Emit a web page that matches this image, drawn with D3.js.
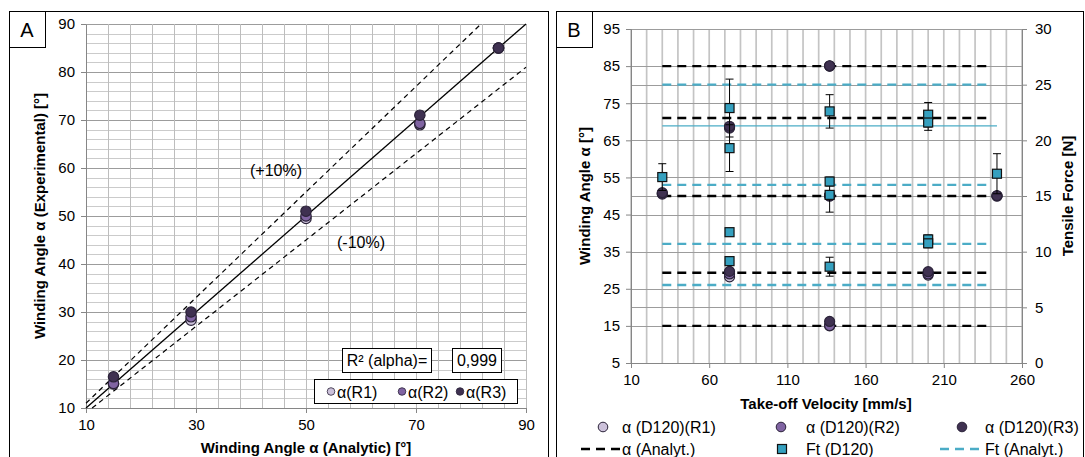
<!DOCTYPE html>
<html>
<head>
<meta charset="utf-8">
<script src="https://cdn.jsdelivr.net/npm/d3@7"></script>
<style>
  body { margin: 0; background: #fff; }
  text { font-family: "Liberation Sans", Arial, sans-serif; fill: #000; }
</style>
</head>
<body>
<div id="chart"></div>
<script>
// ---- panel A data ----
const aAnalytic = [15, 29.1, 50, 70.7, 85]
const aR1 = [15, 28.3, 49.5, 69, 85]
const aR2 = [15.1, 29, 50, 69.3, 85]
const aR3 = [16.5, 30, 51, 71, 85]
const aTicksX = [10, 30, 50, 70, 90]
const aTicksY = [10, 20, 30, 40, 50, 60, 70, 80, 90]
const aRsq = "0,999"

// ---- panel B data ----
const bR1 = [[30, 50.5], [73, 68.3], [73, 28.2], [137, 85], [137, 15], [137, 50], [200, 28.7], [244, 50]]
const bR2 = [[30, 50.7], [73, 68.5], [73, 29], [137, 85], [137, 15.1], [137, 50], [200, 29], [244, 50]]
const bR3 = [[30, 50.9], [73, 68.8], [73, 29.7], [137, 85.1], [137, 16.2], [137, 50.2], [200, 29.6], [244, 50.1]]
const ftVelocity = [30, 73, 73, 73, 73, 137, 137, 137, 137, 200, 200, 200, 200, 244]
const ftMean = [16.7, 22.9, 19.3, 11.75, 9.15, 22.6, 16.3, 15.1, 8.65, 22.3, 21.6, 11.1, 10.75, 17]
const ftError = [1.2, 2.6, 2.1, 0, 0, 1.5, 0.4, 1.55, 0.85, 1.1, 0.7, 0.4, 0.4, 1.8]
const alphaAnalyt = [85, 71, 50, 29.3, 15]
const ftAnalyt = [25, 16, 10.7, 7]
const ftAnalytSolid = [21.3]
const analytRange = [30, 240]
const solidRange = [30, 244]
const bTicksX = [10, 60, 110, 160, 210, 260]
const bTicksL = [5, 15, 25, 35, 45, 55, 65, 75, 85, 95]
const bTicksR = [0, 5, 10, 15, 20, 25, 30]

const colR1 = "#ccc1da", colR2 = "#8064a2", colR3 = "#3f3151"
const colFt = "#35a0bf", colFtLine = "#4bacc6"

const svg = d3.select("#chart").append("svg")
  .attr("width", 1085).attr("height", 457)

// panel frames
svg.append("rect").attr("x", 9.5).attr("y", 11.5).attr("width", 539).attr("height", 460)
  .attr("fill", "none").attr("stroke", "#000").attr("stroke-width", 1)
svg.append("rect").attr("x", 556.5).attr("y", 11.5).attr("width", 527).attr("height", 460)
  .attr("fill", "none").attr("stroke", "#000").attr("stroke-width", 1)

function labelBox(x, y, t) {
  svg.append("rect").attr("x", x + 0.5).attr("y", y + 0.5).attr("width", 36).attr("height", 36)
    .attr("fill", "#fff").attr("stroke", "#000")
  svg.append("text").attr("x", x + 18).attr("y", y + 26).attr("text-anchor", "middle")
    .style("font-size", "20px").text(t)
}

function styleAxis(g) {
  g.select(".domain").attr("stroke", "#868686")
  g.selectAll(".tick line").attr("stroke", "#868686")
  g.selectAll(".tick text").style("font-size", "15px").attr("fill", "#000")
}

// =================== PANEL A ===================
const xA = d3.scaleLinear().domain([10, 90]).range([86, 526])
const yA = d3.scaleLinear().domain([10, 90]).range([408, 24])

const gA = svg.append("g")
// horizontal grid (every 2, darker every 10)
gA.selectAll(".hminor").data(d3.range(10, 91, 2)).enter().append("line")
  .attr("x1", xA(10)).attr("x2", xA(90))
  .attr("y1", d => Math.round(yA(d)) + 0.5).attr("y2", d => Math.round(yA(d)) + 0.5)
  .attr("stroke", d => d % 10 === 0 ? "#9c9c9c" : "#cbcbcb").attr("stroke-width", 1)
// vertical grid (every 4)
gA.selectAll(".vgrid").data(d3.range(10, 91, 4)).enter().append("line")
  .attr("x1", d => Math.round(xA(d)) + 0.5).attr("x2", d => Math.round(xA(d)) + 0.5)
  .attr("y1", yA(10)).attr("y2", yA(90))
  .attr("stroke", "#bdbdbd").attr("stroke-width", 1)

gA.append("g").attr("transform", "translate(" + xA(10) + ",0)")
  .call(d3.axisLeft(yA).tickValues(aTicksY).tickSize(5).tickPadding(6).tickFormat(d3.format("d")))
  .call(styleAxis)
gA.append("g").attr("transform", "translate(0," + yA(10) + ")")
  .call(d3.axisBottom(xA).tickValues(aTicksX).tickSize(5).tickPadding(6).tickFormat(d3.format("d")))
  .call(styleAxis)

// reference lines y=x, +/-10%
const lineA = d3.line().x(d => xA(d[0])).y(d => yA(d[1]))
gA.append("path").datum([[10, 10], [90, 90]]).attr("d", lineA)
  .attr("stroke", "#000").attr("stroke-width", 1.3).attr("fill", "none")
gA.append("path").datum([[10, 11], [90 / 1.1, 90]]).attr("d", lineA)
  .attr("stroke", "#000").attr("stroke-width", 1.2).attr("stroke-dasharray", "5,4").attr("fill", "none")
gA.append("path").datum([[10 / 0.9, 10], [90, 81]]).attr("d", lineA)
  .attr("stroke", "#000").attr("stroke-width", 1.2).attr("stroke-dasharray", "5,4").attr("fill", "none")

gA.append("text").attr("x", 276).attr("y", 176).attr("text-anchor", "middle")
  .style("font-size", "16px").text("(+10%)")
gA.append("text").attr("x", 361).attr("y", 248).attr("text-anchor", "middle")
  .style("font-size", "16px").text("(-10%)")

;[[aR1, colR1], [aR2, colR2], [aR3, colR3]].forEach(([vals, col]) => {
  gA.selectAll(null).data(vals).enter().append("circle")
    .attr("cx", (d, i) => xA(aAnalytic[i])).attr("cy", d => yA(d))
    .attr("r", 5.2).attr("fill", col).attr("stroke", "#2a2238").attr("stroke-width", 1.2)
})

// R² boxes
gA.append("rect").attr("x", 342.5).attr("y", 348.5).attr("width", 89).attr("height", 24)
  .attr("fill", "#fff").attr("stroke", "#000")
gA.append("text").attr("x", 387).attr("y", 366).attr("text-anchor", "middle")
  .style("font-size", "16px").text("R² (alpha)=")
gA.append("rect").attr("x", 452.5).attr("y", 348.5).attr("width", 49).attr("height", 24)
  .attr("fill", "#fff").attr("stroke", "#000")
gA.append("text").attr("x", 477).attr("y", 366).attr("text-anchor", "middle")
  .style("font-size", "16px").text(aRsq)

// legend A
gA.append("rect").attr("x", 314.5).attr("y", 379.5).attr("width", 203).attr("height", 24)
  .attr("fill", "#fff").attr("stroke", "#000")
const legA = [["α(R1)", colR1, 331], ["α(R2)", colR2, 402], ["α(R3)", colR3, 460]]
legA.forEach(([t, c, x]) => {
  gA.append("circle").attr("cx", x).attr("cy", 391.5).attr("r", 3.8)
    .attr("fill", c).attr("stroke", "#2a2238").attr("stroke-width", 0.8)
  gA.append("text").attr("x", x + 6).attr("y", 397.5).style("font-size", "16px").text(t)
})

gA.append("text").attr("x", 306).attr("y", 453).attr("text-anchor", "middle")
  .style("font-size", "15px").style("font-weight", "bold").text("Winding Angle α (Analytic) [°]")
gA.append("text").attr("transform", "translate(45,216) rotate(-90)").attr("text-anchor", "middle")
  .style("font-size", "15px").style("font-weight", "bold").text("Winding Angle α (Experimental) [°]")

labelBox(9, 11, "A")

// =================== PANEL B ===================
const xB = d3.scaleLinear().domain([10, 260]).range([631, 1022])
const yL = d3.scaleLinear().domain([5, 95]).range([363, 29])
const yR = d3.scaleLinear().domain([0, 30]).range([363, 29])

const gB = svg.append("g")
gB.selectAll(".vg").data(d3.range(10, 261, 10)).enter().append("line")
  .attr("x1", d => xB(d)).attr("x2", d => xB(d)).attr("y1", yL(5)).attr("y2", yL(95))
  .attr("stroke", "#c4c4c4").attr("stroke-width", 1.7)
gB.selectAll(".hl").data(bTicksL).enter().append("line")
  .attr("x1", xB(10)).attr("x2", xB(260)).attr("y1", d => Math.round(yL(d)) + 0.5).attr("y2", d => Math.round(yL(d)) + 0.5)
  .attr("stroke", "#9c9c9c").attr("stroke-width", 1)
gB.selectAll(".hr").data(bTicksR).enter().append("line")
  .attr("x1", xB(10)).attr("x2", xB(260)).attr("y1", d => Math.round(yR(d)) + 0.5).attr("y2", d => Math.round(yR(d)) + 0.5)
  .attr("stroke", "#9c9c9c").attr("stroke-width", 1)

gB.append("g").attr("transform", "translate(" + xB(10) + ",0)")
  .call(d3.axisLeft(yL).tickValues(bTicksL).tickSize(5).tickPadding(6))
  .call(styleAxis)
gB.append("g").attr("transform", "translate(" + xB(260) + ",0)")
  .call(d3.axisRight(yR).tickValues(bTicksR).tickSize(5).tickPadding(8))
  .call(styleAxis)
gB.append("g").attr("transform", "translate(0," + yL(5) + ")")
  .call(d3.axisBottom(xB).tickValues(bTicksX).tickSize(5).tickPadding(6))
  .call(styleAxis)

// analytical lines
gB.selectAll(".aa").data(alphaAnalyt).enter().append("line")
  .attr("x1", xB(analytRange[0])).attr("x2", xB(analytRange[1]))
  .attr("y1", d => yL(d)).attr("y2", d => yL(d))
  .attr("stroke", "#000").attr("stroke-width", 2.4).attr("stroke-dasharray", "9,6")
gB.selectAll(".fa").data(ftAnalyt).enter().append("line")
  .attr("x1", xB(analytRange[0])).attr("x2", xB(analytRange[1]))
  .attr("y1", d => yR(d)).attr("y2", d => yR(d))
  .attr("stroke", colFtLine).attr("stroke-width", 2.4).attr("stroke-dasharray", "9,6")
gB.selectAll(".fs").data(ftAnalytSolid).enter().append("line")
  .attr("x1", xB(solidRange[0])).attr("x2", xB(solidRange[1]))
  .attr("y1", d => yR(d)).attr("y2", d => yR(d))
  .attr("stroke", colFtLine).attr("stroke-width", 1.3)

// alpha circles
;[[bR1, colR1], [bR2, colR2], [bR3, colR3]].forEach(([vals, col]) => {
  gB.selectAll(null).data(vals).enter().append("circle")
    .attr("cx", d => xB(d[0])).attr("cy", d => yL(d[1]))
    .attr("r", 5).attr("fill", col).attr("stroke", "#2a2238").attr("stroke-width", 1.2)
})

// Ft error bars + squares
const ftData = ftVelocity.map((v, i) => ({ v: v, m: ftMean[i], e: ftError[i] }))
const eb = gB.selectAll(".eb").data(ftData.filter(d => d.e > 0)).enter().append("g")
eb.append("line").attr("x1", d => xB(d.v)).attr("x2", d => xB(d.v))
  .attr("y1", d => yR(d.m - d.e)).attr("y2", d => yR(d.m + d.e)).attr("stroke", "#000").attr("stroke-width", 1)
eb.append("line").attr("x1", d => xB(d.v) - 4).attr("x2", d => xB(d.v) + 4)
  .attr("y1", d => yR(d.m + d.e)).attr("y2", d => yR(d.m + d.e)).attr("stroke", "#000").attr("stroke-width", 1)
eb.append("line").attr("x1", d => xB(d.v) - 4).attr("x2", d => xB(d.v) + 4)
  .attr("y1", d => yR(d.m - d.e)).attr("y2", d => yR(d.m - d.e)).attr("stroke", "#000").attr("stroke-width", 1)
gB.selectAll(".sq").data(ftData).enter().append("rect")
  .attr("x", d => xB(d.v) - 4.5).attr("y", d => yR(d.m) - 4.5)
  .attr("width", 9).attr("height", 9).attr("fill", colFt).attr("stroke", "#111").attr("stroke-width", 1.2)

// titles
gB.append("text").attr("x", 826).attr("y", 409).attr("text-anchor", "middle")
  .style("font-size", "15px").style("font-weight", "bold").text("Take-off Velocity [mm/s]")
gB.append("text").attr("transform", "translate(590,196) rotate(-90)").attr("text-anchor", "middle")
  .style("font-size", "15px").style("font-weight", "bold").text("Winding Angle α [°]")
gB.append("text").attr("transform", "translate(1073,196) rotate(-90)").attr("text-anchor", "middle")
  .style("font-size", "15px").style("font-weight", "bold").text("Tensile Force [N]")

// legend B
const legB = gB.append("g")
;[["α (D120)(R1)", colR1, 603, 622], ["α (D120)(R2)", colR2, 781, 806], ["α (D120)(R3)", colR3, 962, 985]]
  .forEach(([t, c, mx, tx]) => {
    legB.append("circle").attr("cx", mx).attr("cy", 427).attr("r", 4.8)
      .attr("fill", c).attr("stroke", "#2a2238").attr("stroke-width", 1)
    legB.append("text").attr("x", tx).attr("y", 433).style("font-size", "16px").text(t)
  })
legB.append("line").attr("x1", 581).attr("x2", 621).attr("y1", 449).attr("y2", 449)
  .attr("stroke", "#000").attr("stroke-width", 2.4).attr("stroke-dasharray", "9,6")
legB.append("text").attr("x", 622).attr("y", 455).style("font-size", "16px").text("α (Analyt.)")
legB.append("rect").attr("x", 777.5).attr("y", 444.5).attr("width", 9).attr("height", 9)
  .attr("fill", colFt).attr("stroke", "#111").attr("stroke-width", 1.2)
legB.append("text").attr("x", 806).attr("y", 455).style("font-size", "16px").text("Ft (D120)")
legB.append("line").attr("x1", 940).attr("x2", 980).attr("y1", 449).attr("y2", 449)
  .attr("stroke", colFtLine).attr("stroke-width", 2.4).attr("stroke-dasharray", "9,6")
legB.append("text").attr("x", 985).attr("y", 455).style("font-size", "16px").text("Ft (Analyt.)")

labelBox(556, 11, "B")
</script>
</body>
</html>
